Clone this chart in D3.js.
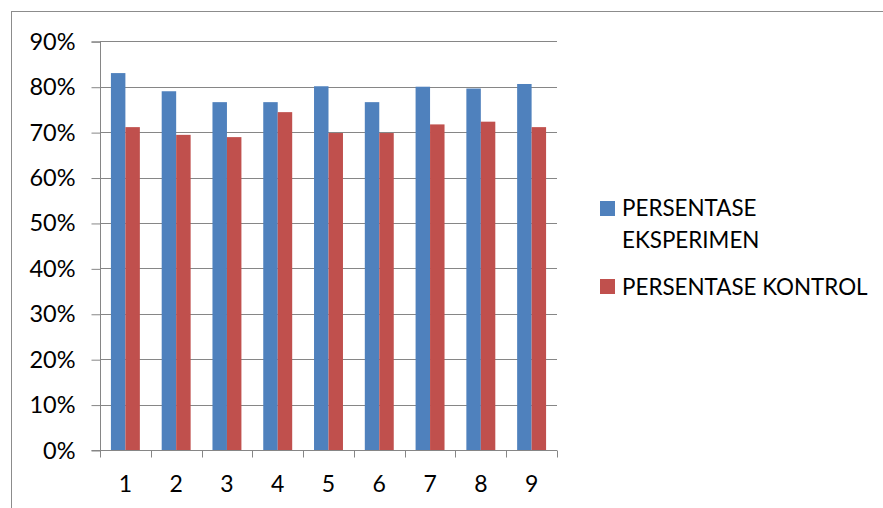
<!DOCTYPE html>
<html>
<head>
<meta charset="utf-8">
<script src="https://cdn.jsdelivr.net/npm/d3@7"></script>
<style>
html,body{margin:0;padding:0;background:#fff;}
svg{display:block;}
text{font-family:Lato, "Open Sans", sans-serif;fill:#000;}
</style>
</head>
<body>
<svg id="chart" width="883" height="508"></svg>
<script>
const categories = ["1","2","3","4","5","6","7","8","9"];
const eksperimen = [0.830, 0.790, 0.766, 0.766, 0.801, 0.766, 0.800, 0.796, 0.806];
const kontrol    = [0.711, 0.694, 0.689, 0.744, 0.698, 0.698, 0.717, 0.723, 0.711];
const yTicks = [0,0.1,0.2,0.3,0.4,0.5,0.6,0.7,0.8,0.9];
const seriesNames = ["PERSENTASE EKSPERIMEN","PERSENTASE KONTROL"];
const colors = ["#4F81BD","#C0504D"];

const svg = d3.select("#chart");
const pLeft = 100, pRight = 557, pTop = 41.3, pBottom = 450;

// outer border
svg.append("rect").attr("x",11.5).attr("y",11.5).attr("width",900).attr("height",520)
  .attr("fill","none").attr("stroke","#8c8c8c").attr("stroke-width",1);

const x = d3.scaleBand().domain(categories).range([pLeft,pRight]).paddingInner(0).paddingOuter(0);
const y = d3.scaleLinear().domain([0,0.9]).range([pBottom,pTop]);

// gridlines
svg.append("g").selectAll("line").data(yTicks.filter(d=>d>0)).join("line")
  .attr("x1",pLeft).attr("x2",pRight)
  .attr("y1",d=>Math.round(y(d))+0.5).attr("y2",d=>Math.round(y(d))+0.5)
  .attr("stroke","#868686").attr("stroke-width",1);

// bars
const bw = x.bandwidth()*0.285;
const off = x.bandwidth()*0.215;
const data = categories.map((c,i)=>({c, v:[eksperimen[i],kontrol[i]]}));
const g = svg.append("g");
[0,1].forEach(s=>{
  g.selectAll(".b"+s).data(data).join("rect").attr("class","b"+s)
    .attr("x",d=>x(d.c)+off+s*bw)
    .attr("y",d=>y(d.v[s]))
    .attr("width",bw)
    .attr("height",d=>pBottom-y(d.v[s]))
    .attr("fill",colors[s]);
});

// y axis
const yAxis = d3.axisLeft(y).tickValues(yTicks).tickFormat(d3.format(".0%")).tickSize(9).tickPadding(16);
const ya = svg.append("g").attr("transform",`translate(${pLeft+0.5},0.5)`).call(yAxis);
ya.select(".domain").attr("stroke","#868686").attr("d",`M-9,${pTop}H0V${pBottom}H-9`);
ya.selectAll(".tick line").attr("stroke","#868686");
ya.selectAll(".tick text").attr("font-size",23.5).attr("font-family","Lato, sans-serif").attr("fill","#000");

// x axis
const xAxis = d3.axisBottom(x).tickSize(0).tickPadding(25);
const xa = svg.append("g").attr("transform",`translate(0,${pBottom+0.5})`).call(xAxis);
xa.select(".domain").attr("stroke","#868686").attr("d",`M${pLeft},0H${pRight}`);
xa.selectAll(".tick text").attr("font-size",23).attr("font-family","Lato, sans-serif").attr("fill","#000");
const bounds = categories.map(c=>x(c)).concat([pRight]);
xa.append("g").selectAll("line").data(bounds).join("line")
  .attr("x1",d=>Math.round(d)+0.5).attr("x2",d=>Math.round(d)+0.5)
  .attr("y1",0).attr("y2",7).attr("stroke","#868686");

// legend
const lg = svg.append("g");
lg.append("rect").attr("x",600).attr("y",201).attr("width",15).attr("height",15).attr("fill",colors[0]);
lg.append("text").attr("x",622).attr("y",216).attr("font-size",22.4).text("PERSENTASE");
lg.append("text").attr("x",622).attr("y",248).attr("font-size",22.4).text("EKSPERIMEN");
lg.append("rect").attr("x",600).attr("y",279).attr("width",15).attr("height",15).attr("fill",colors[1]);
lg.append("text").attr("x",622).attr("y",295).attr("font-size",22.4).text("PERSENTASE KONTROL");
</script>
</body>
</html>
